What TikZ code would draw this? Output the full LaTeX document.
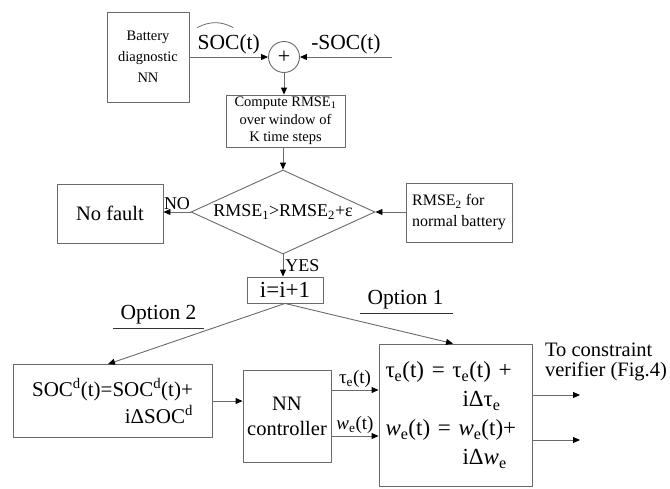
\documentclass[tikz,border=0pt]{standalone}
\usepackage{fontspec}
\setmainfont{Liberation Serif}
\usetikzlibrary{positioning,arrows.meta,shapes.geometric}
\definecolor{cline}{HTML}{6A6A6A}
\newcommand{\fsz}[2]{\fontsize{#1pt}{#2pt}\selectfont}

\begin{document}
\begin{tikzpicture}[x=1pt,y=-1pt,
      box/.style={draw=cline,line width=0.9pt,inner sep=2pt,align=center},
      lbl/.style={inner sep=2pt},
      ar/.style={-{Triangle[length=7pt,width=6pt,color=black]},draw=cline,line width=0.9pt},
      ul/.style={draw=black!80,line width=1.4pt}]

    \useasboundingbox (0,0) rectangle (670,488);

    % fault detection
    \node[box,minimum width=82pt,minimum height=90pt,font=\fsz{14.5}{21}] (batt) at (148,57) {Battery\\diagnostic\\NN};
    \node[draw=cline,circle,line width=0.9pt,minimum size=31pt,inner sep=0pt,font=\fsz{22}{22}] (sum) at (284,57) {+};
    \coordinate (socin) at (392,57);
    \node[box,minimum width=119pt,minimum height=52pt,font=\fsz{14.5}{17.5}] (rmse1) at (285.5,121) {Compute RMSE\textsubscript{1}\\over window of\\K time steps};
    \node[box,diamond,aspect=2.19,minimum width=184pt,minimum height=84pt,inner sep=0pt,font=\fsz{18}{18}] (dec) at (283,212) {RMSE\textsubscript{1}>RMSE\textsubscript{2}+ε};
    \node[box,minimum width=106pt,minimum height=59pt,font=\fsz{20.5}{20.5}] (nofault) at (110,213.5) {No fault};
    \node[box,minimum width=106pt,minimum height=59pt,align=left,font=\fsz{16}{21}] (rmse2) at (459,212.5) {RMSE\textsubscript{2} for\\normal battery};
    \node[box,minimum width=76pt,minimum height=26pt,inner sep=0pt,font=\fsz{23}{23}] (inc) at (285,290) {i=i+1};

    % recovery options
    \node[lbl,font=\fsz{21.5}{21.5}] (opt2) at (158.5,315) {Option 2};
    \node[lbl,font=\fsz{21.5}{21.5}] (opt1) at (405.5,300) {Option 1};
    \node[box,minimum width=199pt,minimum height=73pt,align=right,font=\fsz{21}{27}] (socd) at (112.5,401) {SOC\textsuperscript{d}(t)=SOC\textsuperscript{d}(t)+\\iΔSOC\textsuperscript{d}};
    \node[box,minimum width=88pt,minimum height=92pt,font=\fsz{20.5}{25}] (nnc) at (287,416) {NN\\controller};
    \node[box,minimum width=153pt,minimum height=142pt,text width=140pt,align=left,font=\fsz{23}{29}] (upd) at (455.5,415)
      {τ\textsubscript{e}(t) = τ\textsubscript{e}(t) +\\
       \hspace*{77pt}iΔτ\textsubscript{e}\\
       \textit{w}\textsubscript{e}(t) = \textit{w}\textsubscript{e}(t)+\\
       \hspace*{77pt}iΔ\textit{w}\textsubscript{e}};
    \coordinate (out1) at (580,395);
    \coordinate (out2) at (580,440);
    \node[lbl,align=left,font=\fsz{20.5}{19.5}] (dest) at (606,362) {To constraint\\verifier (Fig.4)};

    \draw[ul] ([xshift=-5pt,yshift=-2pt]opt2.south west) -- ([xshift=5pt,yshift=-2pt]opt2.south east);
    \draw[ul] ([xshift=-5pt,yshift=-2pt]opt1.south west) -- ([xshift=7pt,yshift=-2pt]opt1.south east);

    \draw[ar] (batt.east) -- (sum.west) node[midway,above,lbl,font=\fsz{21.5}{21.5}] (sochat) {SOC(t)};
    \draw[cline,line width=0.8pt] ([shift={(2pt,5pt)}]sochat.north west) to[bend left=28] ([shift={(38pt,5pt)}]sochat.north west);
    \draw[ar] (socin) -- (sum.east) node[midway,above,lbl,font=\fsz{21.5}{21.5}] {-SOC(t)};
    \draw[ar] (sum.south) -- (sum.south |- rmse1.north);
    \draw[ar] (rmse1.south -| dec.north) -- (dec.north);
    \draw[ar] (dec.west) -- (nofault.east |- dec.west) node[midway,above,lbl,font=\fsz{18}{18}] {NO};
    \draw[ar] (rmse2.west |- dec.east) -- (dec.east);
    \draw[ar] (dec.south) -- (dec.south |- inc.north) node[midway,right,lbl,font=\fsz{18}{18}] {YES};
    \draw[ar] (inc.south) -- ([xshift=-4.5pt]socd.north);
    \draw[ar] (inc.south) -- ([xshift=-2.5pt]upd.north);
    \draw[ar] (socd.east) -- (socd.east -| nnc.west);
    \draw[ar] ([yshift=26pt]nnc.east) -- ([yshift=26pt]nnc.east -| upd.west) node[midway,above,lbl,font=\fsz{19}{19}] {τ\textsubscript{e}(t)};
    \draw[ar] ([yshift=-20pt]nnc.east) -- ([yshift=-20pt]nnc.east -| upd.west) node[midway,above,lbl,font=\fsz{19}{19}] {\textit{w}\textsubscript{e}(t)};
    \draw[ar] ([yshift=20pt]upd.east) -- (out1);
    \draw[ar] ([yshift=-25pt]upd.east) -- (out2);
  \end{tikzpicture}
\end{document}
